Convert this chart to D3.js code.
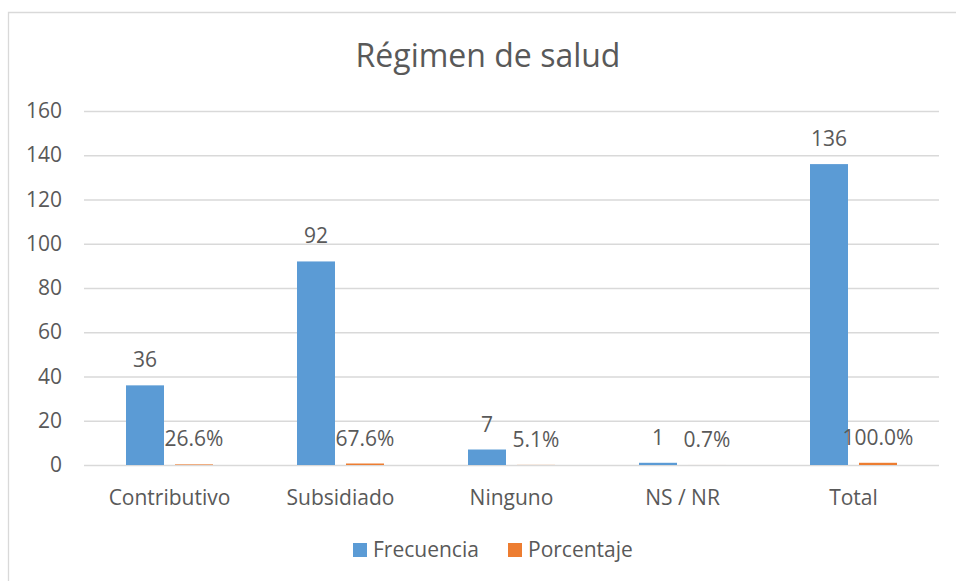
<!DOCTYPE html>
<html>
<head>
<meta charset="utf-8">
<script src="https://cdn.jsdelivr.net/npm/d3@7"></script>
<style>
  body { margin: 0; background: #fff; }
  text { font-family: "Open Sans", sans-serif; fill: #595959; }
</style>
</head>
<body>
<div id="chart"></div>
<script>
var categories = ["Contributivo", "Subsidiado", "Ninguno", "NS / NR", "Total"];
var seriesNames = ["Frecuencia", "Porcentaje"];
var frecuencia = [36, 92, 7, 1, 136];
var porcentaje = [0.266, 0.676, 0.051, 0.007, 1.0];
var yTicks = [0, 20, 40, 60, 80, 100, 120, 140, 160];
var colors = ["#5b9bd5", "#ed7d31"];

function drawChart(){
    var width = 956, height = 581;
    var margin = {top: 111, right: 17, bottom: 116, left: 84};

    var svg = d3.select("#chart")
                .append("svg")
                .attr("width", width)
                .attr("height", height);

    // chart area border (only top and left visible in the picture)
    svg.append("path")
        .attr("d", "M8.5,600V12.5H970")
        .attr("fill", "none")
        .attr("stroke", "#d9d9d9")
        .attr("stroke-width", 1.3);

    var x0 = d3.scaleBand()
               .domain(categories)
               .range([margin.left, width - margin.right]);

    var x1 = d3.scaleBand()
               .domain(seriesNames)
               .range([42, 129])
               .paddingInner(0.2245);

    var y = d3.scaleLinear()
              .domain([0, 160])
              .range([height - margin.bottom, margin.top]);

    svg.append("text")
        .attr("x", 488)
        .attr("y", 67)
        .attr("text-anchor", "middle")
        .style("font-size", "32px")
        .text("Régimen de salud");

    // gridlines + tick labels
    svg.append("g")
        .attr("transform", "translate(" + margin.left + ",0)")
        .call(d3.axisLeft(y).tickValues(yTicks).tickSize(-(width - margin.left - margin.right)).tickPadding(22))
        .call(g => g.select(".domain").remove())
        .call(g => g.selectAll("line").attr("stroke", "#d9d9d9").attr("stroke-width", 1.3))
        .call(g => g.selectAll("text")
                    .style("font-size", "21px")
                    .attr("fill", "#595959")
                    .style("font-family", "'Open Sans', sans-serif"));

    var rows = categories.map(function(c, i){
        return {cat: c, vals: [
            {s: seriesNames[0], v: frecuencia[i], label: String(frecuencia[i])},
            {s: seriesNames[1], v: porcentaje[i], label: (porcentaje[i] * 100).toFixed(1) + "%"}
        ]};
    });

    var groups = svg.selectAll(".grp")
                    .data(rows)
                    .enter()
                    .append("g")
                    .attr("transform", d => "translate(" + x0(d.cat) + ",0)");

    groups.selectAll("rect")
        .data(d => d.vals)
        .enter()
        .append("rect")
          .attr("x", d => x1(d.s))
          .attr("width", x1.bandwidth())
          .attr("y", d => y(d.v))
          .attr("height", d => y(0) - y(d.v))
          .attr("fill", (d, i) => colors[i]);

    groups.selectAll(".lbl")
        .data(d => d.vals)
        .enter()
        .append("text")
          .attr("class", "lbl")
          .attr("x", d => x1(d.s) + x1.bandwidth() / 2)
          .attr("y", d => y(d.v) - 18)
          .attr("text-anchor", "middle")
          .style("font-size", "21px")
          .text(d => d.label);

    // category labels
    svg.selectAll(".cat")
        .data(categories)
        .enter()
        .append("text")
          .attr("x", d => x0(d) + x0.bandwidth() / 2)
          .attr("y", 505)
          .attr("text-anchor", "middle")
          .style("font-size", "21px")
          .text(d => d);

    // legend
    var legendX = [353, 508];
    var legend = svg.selectAll(".leg")
                    .data(seriesNames)
                    .enter()
                    .append("g")
                    .attr("transform", (d, i) => "translate(" + legendX[i] + ",543)");
    legend.append("rect")
        .attr("width", 14)
        .attr("height", 14)
        .attr("fill", (d, i) => colors[i]);
    legend.append("text")
        .attr("x", 20)
        .attr("y", 14)
        .style("font-size", "21px")
        .text(d => d);
}

drawChart();
</script>
</body>
</html>
